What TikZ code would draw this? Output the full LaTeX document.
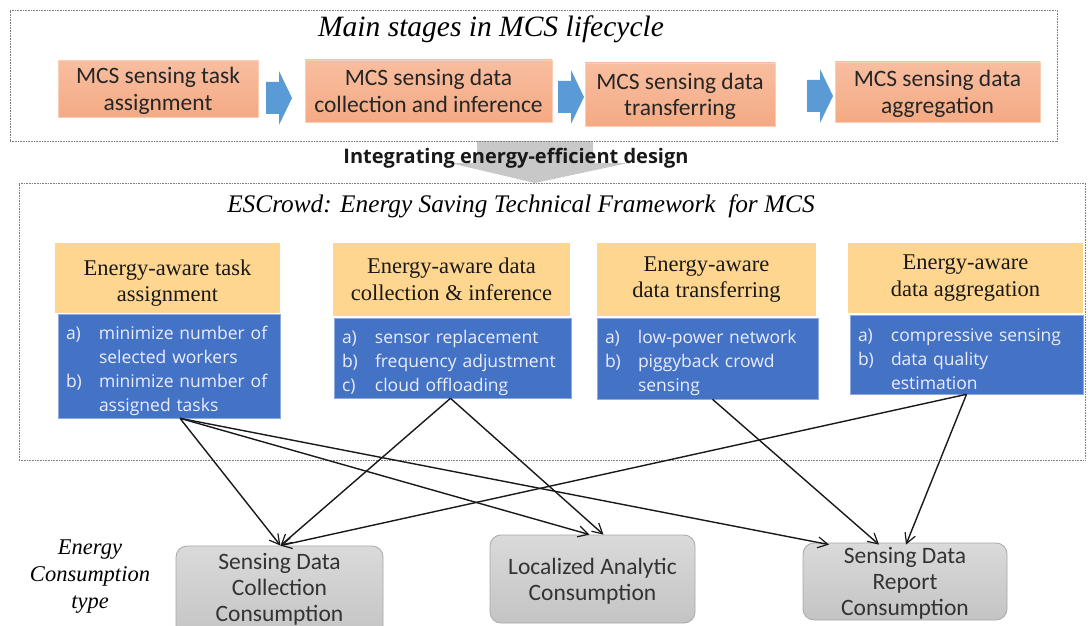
\documentclass[tikz,border=0pt]{standalone}
\usepackage{fontspec}
\setmainfont{Liberation Serif}
\newfontfamily\calib{Carlito}
\newfontfamily\yahei{Open Sans}
\usetikzlibrary{arrows.meta}
\definecolor{ortop}{HTML}{F8BEA0}
\definecolor{orbot}{HTML}{F4AA84}
\definecolor{orline}{HTML}{F9CDB6}
\definecolor{yfill}{HTML}{FFD690}
\definecolor{bfill}{HTML}{4472C4}
\definecolor{bline}{HTML}{8EA9DB}
\definecolor{barrow}{HTML}{5B9BD5}
\definecolor{gtop}{HTML}{DADADA}
\definecolor{gbot}{HTML}{C4C4C4}
\definecolor{gline}{HTML}{A8A8A8}
\definecolor{garrow}{HTML}{C8C8C8}
\definecolor{frameline}{HTML}{7F7F7F}
\tikzset{
  frame/.style={draw=frameline, dash pattern=on 0.8pt off 0.8pt, line width=0.7pt},
  orbox/.style={top color=ortop, bottom color=orbot, draw=orline, line width=0.8pt, inner sep=0pt, align=center,
    font=\calib\fontsize{23.5}{26.5}\selectfont, text=black!85, text depth=0pt},
  ybox/.style={fill=yfill, inner sep=0pt, align=center,
    font=\fontsize{22.5}{26.5}\selectfont, text=black!90},
  ytext/.style={inner sep=0pt, align=center, font=\fontsize{22.5}{26.5}\selectfont, text=black!90},
  bbox/.style={fill=bfill, draw=bline, line width=0.6pt, inner xsep=8pt, inner ysep=0pt, align=left,
    font=\yahei\fontsize{17.5}{24}\selectfont, text=white!93!blue},
  gbox/.style={top color=gtop, bottom color=gbot, draw=gline, line width=0.8pt, rounded corners=11pt, inner sep=0pt, align=center,
    font=\calib\fontsize{23.5}{26}\selectfont, text=black!80, text depth=0pt},
  gtext/.style={font=\calib\fontsize{23.5}{26}\selectfont, text=black!80, align=center, inner sep=0pt},
  blkarrow/.style={fill=barrow},
  conn/.style={-{Straight Barb[length=10pt,width=11pt,line width=1.2pt]}, line width=1.4pt, black!90},
  title/.style={font=\itshape\fontsize{29.5}{32}\selectfont, inner sep=0pt}
}
\newcommand\itm[2]{\makebox[33pt][l]{#1}#2}
\newcommand\topx{\rule{0pt}{23pt}}
\newcommand\blkarr[2]{\path[blkarrow] (#1,#2-16) -- (#1+13,#2-16) -- (#1+13,#2-27) -- (#1+26,#2) -- (#1+13,#2+27) -- (#1+13,#2+16) -- (#1,#2+16) -- cycle;}
\begin{document}
\begin{tikzpicture}[x=1pt,y=-1pt]
\useasboundingbox (0,0) rectangle (1088,626);
\clip (0,0) rectangle (1088,626);
\fill[white] (0,0) rectangle (1088,626);

% gray big arrow
\path[fill=garrow] (477,141) -- (593,141) -- (593,163) -- (628,163) -- (535,183) -- (450,163) -- (477,163) -- cycle;

% frames
\node[frame, minimum width=1047pt, minimum height=131pt, inner sep=0pt] (topframe) at (533.5,75.5) {};
\node[frame, minimum width=1066pt, minimum height=277pt, inner sep=0pt] (midframe) at (552,321.5) {};

\node[title] (t1) at (491,29) {Main stages in MCS lifecycle};
\node[font=\yahei\bfseries\fontsize{20}{24}\selectfont, inner sep=0pt, text=black!90] (integ) at (516,158) {Integrating energy-efficient design};
\node[title, font=\itshape\fontsize{25.3}{30}\selectfont] (t2) at (521,206) {ESCrowd: Energy Saving Technical Framework \ for MCS};

% orange stages
\node[orbox, minimum width=200pt, minimum height=57pt] (o1) at (158,89) {MCS sensing task\\assignment};
\node[orbox, minimum width=247pt, minimum height=62pt] (o2) at (428.5,91) {MCS sensing data\\collection and inference};
\node[orbox, minimum width=190pt, minimum height=63pt] (o3) at (680,94.5) {MCS sensing data\\transferring};
\node[orbox, minimum width=205pt, minimum height=60pt] (o4) at (937.5,92) {MCS sensing data\\aggregation};

\blkarr{266}{98}
\blkarr{558}{97}
\blkarr{807}{96}

% yellow headers
\node[ybox, minimum width=225pt, minimum height=70pt] (y1) at (167.5,278) {};
\node[ytext] (y1t) at (167.5,283) {Energy-aware task\\assignment};
\node[ybox, minimum width=237pt, minimum height=73pt] (y2) at (451.5,279.5) {Energy-aware data\\collection \& inference};
\node[ybox, minimum width=219pt, minimum height=73pt] (y3) at (706.5,279.5) {Energy-aware\\data transferring};
\node[ybox, minimum width=235pt, minimum height=70pt] (y4) at (965.5,278) {Energy-aware\\data aggregation};

% blue lists
\node[bbox, minimum width=222pt, minimum height=104pt, text width=206pt] (b1) at (169,366)
  {\topx\itm{a)}{minimize number of}\\\itm{}{selected workers}\\\itm{b)}{minimize number of}\\\itm{}{assigned tasks}};
\node[bbox, minimum width=237pt, minimum height=80pt, text width=221pt] (b2) at (452.5,358)
  {\topx\itm{a)}{sensor replacement}\\\itm{b)}{frequency adjustment}\\\itm{c)}{cloud offloading}};
\node[bbox, minimum width=221pt, minimum height=81pt, text width=205pt] (b3) at (707.5,358.5)
  {\topx\itm{a)}{low-power network}\\\itm{b)}{piggyback crowd}\\\itm{}{sensing}};
\node[bbox, minimum width=233pt, minimum height=79pt, text width=217pt] (b4) at (966.5,354.5)
  {\topx\itm{a)}{compressive sensing}\\\itm{b)}{data quality}\\\itm{}{estimation}};

% consumption types
\node[font=\itshape\fontsize{22.5}{27}\selectfont, align=center, inner sep=0pt] (etype) at (90,577) {Energy\\Consumption\\type};
\node[gbox, minimum width=207pt, minimum height=92pt] (g1) at (279.5,592) {};
\node[gtext] (g1t) at (279.5,589) {Sensing Data\\Collection\\Consumption};
\node[gbox, minimum width=205pt, minimum height=88pt] (g2) at (592.5,579) {Localized Analytic\\Consumption};
\node[gbox, minimum width=204pt, minimum height=77pt] (g3) at (905,581.5) {Sensing Data\\Report\\Consumption};

% connector end points
\coordinate (s1) at ([xshift=11pt]b1.south);
\coordinate (s2) at ([xshift=-2pt]b2.south);
\coordinate (s3) at ([xshift=5pt]b3.south);
\coordinate (s4) at ([xshift=0pt]b4.south);
\coordinate (g1a) at ([xshift=1pt]g1.north);
\coordinate (g2a) at ([xshift=-3pt]g2.north);
\coordinate (g2b) at ([xshift=11pt]g2.north);
\coordinate (g3a) at ([xshift=-76pt,yshift=-2pt]g3.north);
\coordinate (g3b) at ([xshift=-26pt,yshift=-2pt]g3.north);
\coordinate (g3c) at ([xshift=1pt,yshift=-2pt]g3.north);

\draw[conn] (s1) -- (g1a);
\draw[conn] (s1) -- (g2a);
\draw[conn] (s1) -- (g3a);
\draw[conn] (s2) -- (g1a);
\draw[conn] (s2) -- (g2b);
\draw[conn] (s3) -- (g3b);
\draw[conn] (s4) -- (g1a);
\draw[conn] (s4) -- (g3c);
\end{tikzpicture}
\end{document}
